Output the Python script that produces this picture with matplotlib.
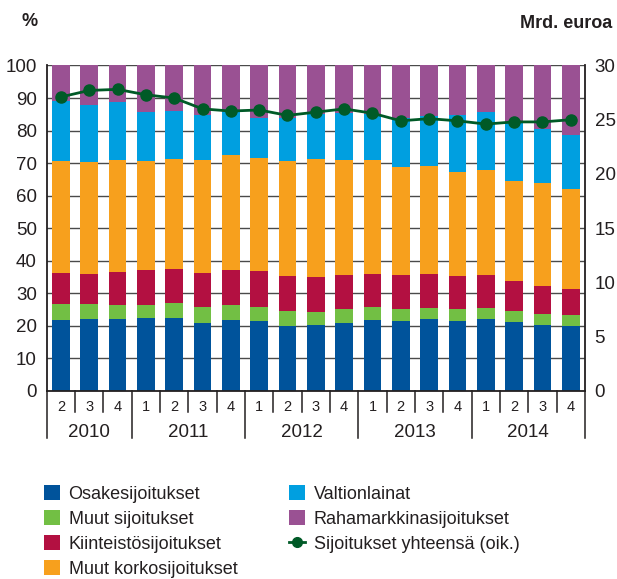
"""
Sijoitusten rakenne ja sijoitukset yhteensä, 2010Q2-2014Q4
"""

import numpy as np
import matplotlib
matplotlib.use('Agg')
from matplotlib import pyplot as plt
from matplotlib.patches import Patch
from matplotlib.lines import Line2D
import matplotlib.transforms as mtransforms

plt.rcParams['font.family'] = ['Liberation Sans', 'DejaVu Sans']

quarters = ['2', '3', '4', '1', '2', '3', '4', '1', '2', '3', '4',
            '1', '2', '3', '4', '1', '2', '3', '4']
years = ['2010', '2011', '2012', '2013', '2014']

# cumulative tops (%)
top_osake = [21.8, 22.1, 22.1, 22.4, 22.4, 20.9, 21.8, 21.5, 20.0, 20.3,
             20.9, 21.8, 21.5, 22.1, 21.5, 22.1, 21.2, 20.3, 20.0]
top_muut = [26.7, 26.7, 26.4, 26.4, 27.0, 25.8, 26.4, 25.8, 24.6, 24.3,
            25.2, 25.8, 25.2, 25.5, 25.2, 25.5, 24.6, 23.7, 23.4]
top_kiint = [36.3, 35.9, 36.6, 37.2, 37.5, 36.3, 37.2, 36.9, 35.3, 35.0,
             35.6, 35.9, 35.6, 35.9, 35.3, 35.6, 33.8, 32.3, 31.3]
top_korko = [70.7, 70.4, 71.0, 70.7, 71.3, 71.0, 72.5, 71.6, 70.7, 71.3,
             71.0, 71.0, 68.8, 69.2, 67.3, 67.9, 64.5, 63.9, 62.1]
top_valtio = [89.1, 87.8, 88.9, 85.7, 86.0, 84.8, 85.7, 83.9, 83.9, 85.2,
              85.5, 85.0, 83.8, 84.5, 84.8, 85.7, 82.7, 80.5, 78.6]
top_raha = [100.0] * 19

yhteensa = [27.1, 27.7, 27.8, 27.3, 27.0, 26.0, 25.8, 25.9, 25.4, 25.7,
            26.0, 25.6, 24.9, 25.1, 24.9, 24.6, 24.8, 24.8, 25.0]

labels = ['Osakesijoitukset', 'Muut sijoitukset', 'Kiinteistösijoitukset',
          'Muut korkosijoitukset', 'Valtionlainat', 'Rahamarkkinasijoitukset']
colors = ['#00539b', '#72bf44', '#b31041', '#f7a01d', '#009fe0', '#9a5193']
line_color = '#005a27'
line_label = 'Sijoitukset yhteensä (oik.)'

tops = np.array([top_osake, top_muut, top_kiint, top_korko, top_valtio, top_raha])
bottoms = np.vstack([np.zeros(len(quarters)), tops[:-1]])
heights = tops - bottoms

x = np.arange(len(quarters))

fig = plt.figure(figsize=(6.17, 5.79), dpi=100)
ax = fig.add_axes([0.0757, 0.3247, 0.8723, 0.5622])

for h, b, c in zip(heights, bottoms, colors):
    ax.bar(x, h, bottom=b, width=0.625, color=c, linewidth=0, zorder=2)

ax.set_xlim(-0.5, len(quarters) - 0.5)
ax.set_ylim(0, 100)
ax.set_yticks(np.arange(0, 101, 10))
ax.yaxis.grid(True, color='#4a4a4a', linewidth=1.0)
ax.set_axisbelow(True)
ax.tick_params(axis='y', length=0, labelsize=13.5, pad=7, colors='#231f20')
ax.set_xticks([])
for s in ['top', 'right']:
    ax.spines[s].set_visible(False)
for s in ['left', 'bottom']:
    ax.spines[s].set_linewidth(1.3)
    ax.spines[s].set_color('#231f20')

ax2 = ax.twinx()
ax2.plot(x, yhteensa, color=line_color, linewidth=2, marker='o',
         markersize=8, zorder=5)
ax2.set_ylim(0, 30)
ax2.set_yticks(np.arange(0, 31, 5))
ax2.tick_params(axis='y', length=0, labelsize=13.5, pad=7, colors='#231f20')
for s in ['top', 'left', 'bottom']:
    ax2.spines[s].set_visible(False)
ax2.spines['right'].set_linewidth(1.3)
ax2.spines['right'].set_color('#231f20')

# category axis: quarters and years
trans = mtransforms.blended_transform_factory(ax.transData, ax.transAxes)
px = 1.0 / (ax.get_position().height * fig.get_figheight() * fig.dpi)
for i, q in enumerate(quarters):
    ax.text(x[i], -16 * px, q, transform=trans, ha='center', va='center',
            fontsize=10.5, color='#231f20')
year_start = [i for i, q in enumerate(quarters) if q == '1']
edges = [-0.5] + [i - 0.5 for i in year_start] + [len(quarters) - 0.5]
for i in range(1, len(quarters)):
    if i - 0.5 not in edges:
        ax.plot([i - 0.5, i - 0.5], [0, -21 * px], transform=trans,
                color='#231f20', linewidth=1.1, clip_on=False)
for e in edges:
    ax.plot([e, e], [0, -47 * px], transform=trans,
            color='#231f20', linewidth=1.1, clip_on=False)
for y0, y1, yr in zip(edges[:-1], edges[1:], years):
    ax.text((y0 + y1) / 2, -42 * px, yr, transform=trans, ha='center',
            va='center', fontsize=13.5, color='#231f20')

fig.text(22 / 617, 1 - 22 / 579, '%', fontsize=13, fontweight='bold',
         ha='left', va='center', color='#231f20')
fig.text(612 / 617, 1 - 24 / 579, 'Mrd. euroa', fontsize=13,
         fontweight='bold', ha='right', va='center', color='#231f20')

h1 = [Patch(facecolor=c, edgecolor='none') for c in colors]
leg_kw = dict(loc='upper left', frameon=False, fontsize=13,
              handlelength=0.85, handleheight=0.85, labelspacing=0.42,
              handletextpad=0.5, borderaxespad=0)
leg1 = fig.legend(h1[:4], labels[:4],
                  bbox_to_anchor=(37 / 617, 1 - 478 / 579), **leg_kw)
h2 = h1[4:] + [Line2D([0], [0], color=line_color, linewidth=2, marker='o',
                      markersize=7)]
leg2 = fig.legend(h2, labels[4:] + [line_label],
                  bbox_to_anchor=(282 / 617, 1 - 478 / 579), **leg_kw)
for t in leg1.get_texts() + leg2.get_texts():
    t.set_color('#231f20')

fig.savefig('out.png', dpi=100)
